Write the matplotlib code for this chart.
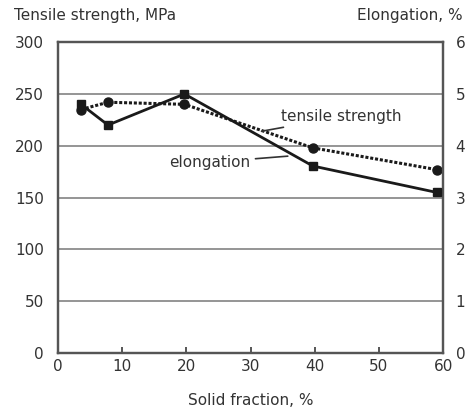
import matplotlib
matplotlib.use("Agg")
import matplotlib.pyplot as plt

solid_fraction = [3.6, 7.8, 19.7, 39.7, 59.0]
tensile_strength = [235, 242, 240, 198, 177]
elongation = [4.8, 4.4, 5.0, 3.61, 3.1]
x_ticks = [0, 10, 20, 30, 40, 50, 60]
left_ticks = [0, 50, 100, 150, 200, 250, 300]
right_ticks = [0, 1, 2, 3, 4, 5, 6]

plt.rcParams['font.family'] = ['DejaVu Sans']
txt = '#333333'
fs = 11
fig = plt.figure(figsize=(4.67, 4.13), dpi=100)
ax = fig.add_axes([0.124, 0.145, 0.825, 0.753])
ax2 = ax.twinx()

ax.set_xlim(0, 60)
ax.set_ylim(0, 300)
ax2.set_ylim(0, 6)
ax.set_xticks(x_ticks)
ax.set_yticks(left_ticks)
ax2.set_yticks(right_ticks)
for y in left_ticks[1:-1]:
    ax.axhline(y, color='#8c8c8c', lw=1.3, zorder=0)

ax.plot(solid_fraction, tensile_strength, linestyle=(0, (1, 0.6)), color='#1a1a1a', lw=2.2,
        marker='o', ms=6.5, zorder=3)
ax2.plot(solid_fraction, elongation, linestyle='-', color='#1a1a1a', lw=2.0,
         marker='s', ms=5.5, zorder=3)

for a in (ax, ax2):
    for s in a.spines.values():
        s.set_color('#555555')
        s.set_linewidth(1.6)
ax.tick_params(axis='x', direction='in', length=4, width=1.4, color='#555555',
               labelsize=fs, labelcolor=txt, pad=4)
ax.tick_params(axis='y', length=0, labelsize=fs, labelcolor=txt, pad=10)
ax2.tick_params(axis='y', length=0, labelsize=fs, labelcolor=txt, pad=9)

ax.set_xlabel('Solid fraction, %', fontsize=fs, color=txt, labelpad=14)
fig.text(0.03, 0.962, 'Tensile strength, MPa', fontsize=fs, color=txt, ha='left', va='center')
fig.text(0.99, 0.962, 'Elongation, %', fontsize=fs, color=txt, ha='right', va='center')

ax.annotate('tensile strength', xy=(31.7, 214), xytext=(34.8, 228),
            fontsize=fs, color=txt, ha='left', va='center',
            arrowprops=dict(arrowstyle='-', color='#333333', lw=1.2, shrinkA=1, shrinkB=0))
ax.annotate('elongation', xy=(35.8, 190), xytext=(29.9, 184),
            fontsize=fs, color=txt, ha='right', va='center',
            arrowprops=dict(arrowstyle='-', color='#333333', lw=1.2, shrinkA=2, shrinkB=0))

fig.savefig('out.png', dpi=100)
